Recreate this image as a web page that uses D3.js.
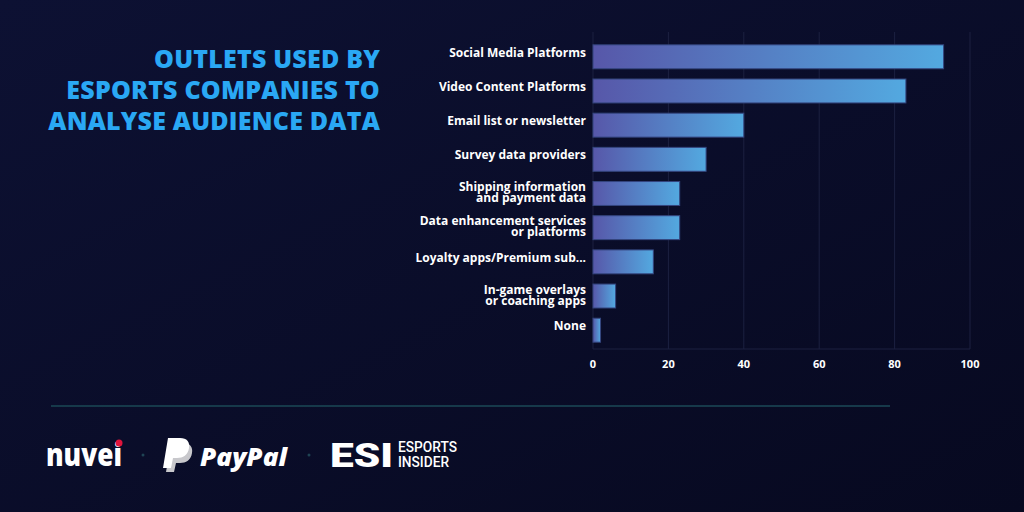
<!DOCTYPE html>
<html>
<head>
<meta charset="utf-8">
<script src="https://cdn.jsdelivr.net/npm/d3@7"></script>
<style>
  html, body { margin: 0; padding: 0; background: #0a0c28; }
  svg { display: block; }
</style>
</head>
<body>
<svg></svg>
<script>
const size = { w: 1024, h: 512 };
const margin = { t: 38, r: 54, b: 163, l: 593 };

// chart data
const categories = [
  ["Social Media Platforms"],
  ["Video Content Platforms"],
  ["Email list or newsletter"],
  ["Survey data providers"],
  ["Shipping information", "and payment data"],
  ["Data enhancement services", "or platforms"],
  ["Loyalty apps/Premium sub..."],
  ["In-game overlays", "or coaching apps"],
  ["None"]
];
const values = [93, 83, 40, 30, 23, 23, 16, 6, 2];
const xTicks = [0, 20, 40, 60, 80, 100];
const titleLines = ["OUTLETS USED BY", "ESPORTS COMPANIES TO", "ANALYSE AUDIENCE DATA"];

const svg = d3.select("svg").attr("width", size.w).attr("height", size.h);
const defs = svg.append("defs");

// background
const bg = defs.append("linearGradient").attr("id", "bg")
  .attr("x1", 0).attr("y1", 0).attr("x2", 1).attr("y2", 1);
bg.append("stop").attr("offset", 0).attr("stop-color", "#0d1133");
bg.append("stop").attr("offset", 1).attr("stop-color", "#070920");
svg.append("rect").attr("width", size.w).attr("height", size.h).attr("fill", "url(#bg)");

const barGrad = defs.append("linearGradient").attr("id", "bar")
  .attr("x1", 0).attr("y1", 0).attr("x2", 1).attr("y2", 0);
barGrad.append("stop").attr("offset", 0).attr("stop-color", "#5757a9");
barGrad.append("stop").attr("offset", 1).attr("stop-color", "#53a9e0");

// title
svg.append("g").selectAll("text")
  .data(titleLines)
  .join("text")
  .attr("x", 380)
  .attr("y", (d, i) => 68 + i * 31)
  .attr("text-anchor", "end")
  .attr("fill", "#2aa8f4")
  .attr("font-family", "Open Sans")
  .attr("font-weight", 800)
  .attr("font-size", 25)
  .attr("letter-spacing", 0.2)
  .text(d => d);

// scales
const x = d3.scaleLinear().domain([0, 100]).range([margin.l, size.w - margin.r]);
const y = d3.scaleBand().domain(d3.range(categories.length))
  .range([margin.t, size.h - margin.b]).paddingInner(0.3).paddingOuter(0.2);

const plot = svg.append("g");

// gridlines
plot.selectAll("line.grid")
  .data(xTicks)
  .join("line")
  .classed("grid", true)
  .attr("x1", d => x(d)).attr("x2", d => x(d))
  .attr("y1", margin.t - 6).attr("y2", size.h - margin.b)
  .attr("stroke", "#1c2141")
  .attr("stroke-width", 1);

plot.append("line")
  .attr("x1", x(0)).attr("x2", x(100))
  .attr("y1", size.h - margin.b).attr("y2", size.h - margin.b)
  .attr("stroke", "#1c2141");

// bars
plot.selectAll("rect.bar")
  .data(values)
  .join("rect")
  .classed("bar", true)
  .attr("x", x(0))
  .attr("y", (d, i) => y(i))
  .attr("width", d => x(d) - x(0))
  .attr("height", y.bandwidth())
  .attr("fill", "url(#bar)")
  .attr("stroke", "#34457e")
  .attr("stroke-width", 1);

// category labels
const lab = plot.selectAll("text.cat")
  .data(categories)
  .join("text")
  .classed("cat", true)
  .attr("text-anchor", "end")
  .attr("fill", "#ffffff")
  .attr("font-family", "Open Sans")
  .attr("font-weight", 700)
  .attr("font-size", 12)
  .attr("transform", (d, i) => `translate(${x(0) - 7},${y(i) + y.bandwidth() / 2})`);

lab.selectAll("tspan")
  .data(d => d.map((t, j) => ({ t, j, n: d.length })))
  .join("tspan")
  .attr("x", 0)
  .attr("y", d => (d.n === 1 ? 0 : -2.5 + d.j * 11))
  .text(d => d.t);

// x tick labels
plot.selectAll("text.tick")
  .data(xTicks)
  .join("text")
  .classed("tick", true)
  .attr("x", d => x(d))
  .attr("y", 368)
  .attr("text-anchor", "middle")
  .attr("fill", "#ffffff")
  .attr("font-family", "Open Sans")
  .attr("font-weight", 700)
  .attr("font-size", 11)
  .text(d => d);

// separator
svg.append("line")
  .attr("x1", 51).attr("x2", 890)
  .attr("y1", 406).attr("y2", 406)
  .attr("stroke", "#16394a")
  .attr("stroke-width", 2);

// footer logos
const foot = svg.append("g");
foot.append("text")
  .attr("x", 46).attr("y", 466)
  .attr("fill", "#ffffff")
  .attr("font-family", "Open Sans")
  .attr("font-weight", 800)
  .attr("font-size", 31)
  .attr("textLength", 76)
  .attr("lengthAdjust", "spacingAndGlyphs")
  .text("nuvei");
foot.append("circle").attr("cx", 119).attr("cy", 443).attr("r", 3.5).attr("fill", "#e0143c");

foot.selectAll("circle.sep")
  .data([143, 309])
  .join("circle")
  .classed("sep", true)
  .attr("cx", d => d).attr("cy", 455).attr("r", 1.5)
  .attr("fill", "#1f4454");

// PayPal mark
foot.append("path")
  .attr("d", "M171,443 h12 c7,0 10,4 9,10 c-1,7 -6,10 -12,10 h-4 l-2,9 h-8 z")
  .attr("fill", "#c8c8cc");
foot.append("path")
  .attr("d", "M168,438 h12 c7,0 10,4 9,10 c-1,7 -6,10 -12,10 h-4 l-2,10 h-8 z")
  .attr("fill", "#ffffff");
foot.append("text")
  .attr("x", 200).attr("y", 466)
  .attr("fill", "#ffffff")
  .attr("font-family", "Open Sans")
  .attr("font-weight", 800)
  .attr("font-style", "italic")
  .attr("font-size", 25)
  .attr("textLength", 87)
  .attr("lengthAdjust", "spacingAndGlyphs")
  .text("PayPal");

// ESI mark
foot.append("text")
  .attr("x", 330).attr("y", 467)
  .attr("fill", "#ffffff")
  .attr("font-family", "Roboto")
  .attr("font-weight", 900)
  .attr("font-size", 33)
  .attr("textLength", 63)
  .attr("lengthAdjust", "spacingAndGlyphs")
  .text("ESI");
foot.selectAll("text.esi")
  .data(["ESPORTS", "INSIDER"])
  .join("text")
  .classed("esi", true)
  .attr("x", 398)
  .attr("y", (d, i) => 452 + i * 15)
  .attr("fill", "#ffffff")
  .attr("font-family", "Roboto")
  .attr("font-weight", 500)
  .attr("font-size", 14)
  .attr("textLength", d => (d === "ESPORTS" ? 59 : 51))
  .attr("lengthAdjust", "spacingAndGlyphs")
  .text(d => d);
</script>
</body>
</html>
